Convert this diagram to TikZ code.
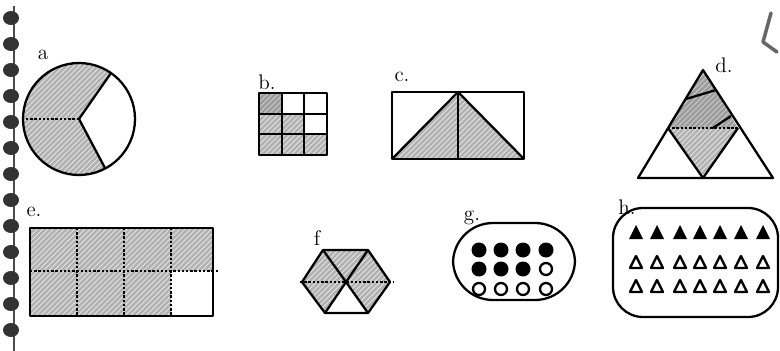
\documentclass[tikz,border=0pt]{standalone}
\usetikzlibrary{patterns}

\begin{document}
\begin{tikzpicture}[x=0.02cm, y=-0.02cm, line join=round,
  outline/.style={line width=1.3pt},
  hatch/.style={fill=gray!60, postaction={pattern=north east lines, pattern color=gray!15}},
  darkhatch/.style={fill=gray!78, postaction={pattern=north east lines, pattern color=gray!35}},
  dotline/.style={line width=1.4pt, densely dotted},
  lbl/.style={font=\large, inner sep=0pt}]

\useasboundingbox[fill=white] (0,0) rectangle (780,351);

% notebook rings
\draw[line width=1.5pt, black!70] (14,6) -- (14,351);
\foreach \y in {18,44,...,330}
  \fill[black!80] (11,\y) ellipse [x radius=8, y radius=7];

% a: circle in thirds
\node[lbl] (labela) at (43,55) {a};
\begin{scope}
  \clip (79,119) circle [radius=56];
  \fill[hatch] (79,119) -- (143,27) -- (10,27) -- (10,220) -- (131,217) -- cycle;
\end{scope}
\draw[outline] (79,119) circle [radius=56];
\draw[outline] (79,119) -- (111,73);
\draw[outline] (79,119) -- (105,168);
\draw[dotline] (79,119) -- (23,119);

% b: 3x3 grid
\node[lbl] (labelb) at (267,82) {b.};
\fill[darkhatch] (259,93) rectangle (282,114);
\fill[hatch] (259,114) rectangle (304,134);
\fill[hatch] (259,134) rectangle (327,155);
\draw[outline] (259,93) rectangle (327,155);
\draw[outline] (282,93) -- (282,155);
\draw[outline] (304,93) -- (304,155);
\draw[outline] (259,114) -- (327,114);
\draw[outline] (259,134) -- (327,134);

% c: rectangle with triangle
\node[lbl] (labelc) at (402,77) {c.};
\fill[hatch] (392,159) -- (458,92) -- (524,159) -- cycle;
\draw[outline] (392,92) rectangle (524,159);
\draw[outline] (392,159) -- (458,92) -- (524,159);
\draw[outline] (458,92) -- (458,159);

% d: triangle in quarters
\node[lbl] (labeld) at (724,65) {d.};
\fill[darkhatch] (703,70) -- (668,128) -- (738,128) -- cycle;
\fill[hatch] (668,128) -- (738,128) -- (703,178) -- cycle;
\draw[outline] (703,70) -- (638,178) -- (773,178) -- cycle;
\draw[outline] (668,128) -- (703,178) -- (738,128);
\draw[dotline] (668,128) -- (738,128);
\draw[outline] (686,99) -- (716,90);
\draw[outline] (713,128) -- (731,116);

% e: 4x2 grid
\node[lbl] (labele) at (34,212) {e.};
\fill[hatch] (30,228) rectangle (213,271);
\fill[hatch] (30,271) rectangle (171,316);
\draw[outline] (30,228) rectangle (213,316);
\draw[dotline] (30,271) -- (218,271);
\draw[dotline] (77,228) -- (77,316);
\draw[dotline] (124,228) -- (124,316);
\draw[dotline] (171,228) -- (171,316);

% f: hexagon
\node[lbl] (labelf) at (317,238) {f};
\fill[hatch] (346,282) -- (325,313) -- (302,282) -- (323,250) -- (368,250) -- (390,282) -- (368,313) -- cycle;
\draw[outline] (302,282) -- (323,250) -- (368,250) -- (390,282) -- (368,313) -- (325,313) -- cycle;
\draw[outline] (323,250) -- (346,282) -- (368,250);
\draw[outline] (325,313) -- (346,282) -- (368,313);
\draw[dotline] (300,282) -- (393,282);

% g: dots
\node[lbl] (labelg) at (472,218) {g.};
\draw[outline, rounded corners=0.8cm] (453,223) rectangle (575,300);
\foreach \x in {479,501,523,546}
  \fill (\x,250) circle [radius=7.5];
\foreach \x in {479,501,523}
  \fill (\x,269) circle [radius=7.5];
\draw[outline] (546,269) circle [radius=6];
\foreach \x in {479,501,523,546}
  \draw[outline] (\x,289) circle [radius=6];

% h: triangles
\node[lbl] (labelh) at (627,207) {h.};
\draw[outline, rounded corners=0.6cm] (613,208) rectangle (778,317);
\foreach \x in {636,657,680,700,720,741,763}
  \fill (\x-7,239) -- (\x,225) -- (\x+7,239) -- cycle;
\foreach \x in {636,657,680,700,720,741,763}
  \draw[outline] (\x-6,268) -- (\x,256) -- (\x+6,268) -- cycle;
\foreach \x in {636,657,680,700,720,741,763}
  \draw[outline] (\x-6,292) -- (\x,280) -- (\x+6,292) -- cycle;

% pen mark
\draw[line width=2pt, black!60, line cap=round] (771,13) -- (763,42) -- (777,52);
\end{tikzpicture}
\end{document}
